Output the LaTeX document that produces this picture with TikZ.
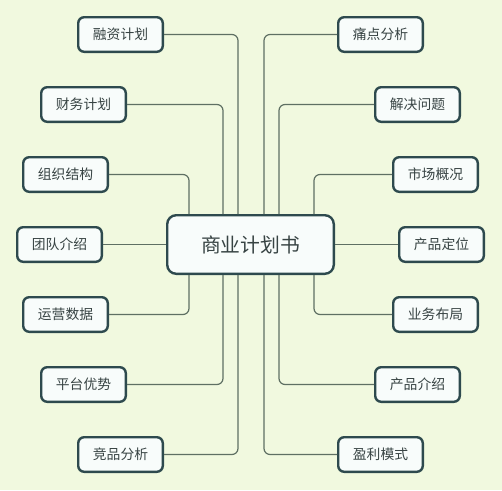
\documentclass[tikz,border=0pt]{standalone}
\usepackage{fontspec}
\setmainfont{Noto Sans CJK SC}
\begin{document}
\begin{tikzpicture}[x=1pt,y=-1pt,
  box/.style={draw=boxborder, line width=2.4pt, fill=boxfill, rounded corners=6pt,
    minimum width=84.6pt, minimum height=34.6pt, inner sep=0pt, text=txt,
    font=\fontsize{13.8pt}{15pt}\selectfont},
  mainbox/.style={box, minimum width=166.6pt, minimum height=58.6pt, rounded corners=9pt,
    font=\fontsize{19.8pt}{22pt}\selectfont},
  link/.style={draw=linec, line width=1.2pt, rounded corners=6pt}]
\definecolor{bg}{HTML}{F1F9DF}
\definecolor{boxborder}{HTML}{2E4A4E}
\definecolor{boxfill}{HTML}{F8FCFB}
\definecolor{linec}{HTML}{5F7063}
\definecolor{txt}{HTML}{374343}
\fill[bg] (0,0) rectangle (502,490);
\useasboundingbox (0,0) rectangle (502,490);
\node[mainbox] (c) at (250.5,244.5) {商业计划书};
% left
\node[box] (l1) at (120.5,34.5) {融资计划};
\node[box] (l2) at (83.5,104.5) {财务计划};
\node[box] (l3) at (65.5,174.5) {组织结构};
\node[box] (l4) at (59.5,244.5) {团队介绍};
\node[box] (l5) at (65.5,314.5) {运营数据};
\node[box] (l6) at (83.5,384.5) {平台优势};
\node[box] (l7) at (120.5,454.5) {竞品分析};
% right
\node[box] (r1) at (380.5,34.5) {痛点分析};
\node[box] (r2) at (417.5,104.5) {解决问题};
\node[box] (r3) at (435.5,174.5) {市场概况};
\node[box] (r4) at (441.5,244.5) {产品定位};
\node[box] (r5) at (435.5,314.5) {业务布局};
\node[box] (r6) at (417.5,384.5) {产品介绍};
\node[box] (r7) at (380.5,454.5) {盈利模式};
% connectors
\path[link] (l1.east) -| (c.north -| 238,0);
\path[link] (l2.east) -| (c.north -| 223,0);
\path[link] (l3.east) -| (c.north -| 189,0);
\path[link] (l4.east) -- (c.west);
\path[link] (l5.east) -| (c.south -| 189,0);
\path[link] (l6.east) -| (c.south -| 223,0);
\path[link] (l7.east) -| (c.south -| 238,0);
\path[link] (r1.west) -| (c.north -| 264,0);
\path[link] (r2.west) -| (c.north -| 279,0);
\path[link] (r3.west) -| (c.north -| 314,0);
\path[link] (r4.west) -- (c.east);
\path[link] (r5.west) -| (c.south -| 314,0);
\path[link] (r6.west) -| (c.south -| 279,0);
\path[link] (r7.west) -| (c.south -| 264,0);
\end{tikzpicture}
\end{document}
